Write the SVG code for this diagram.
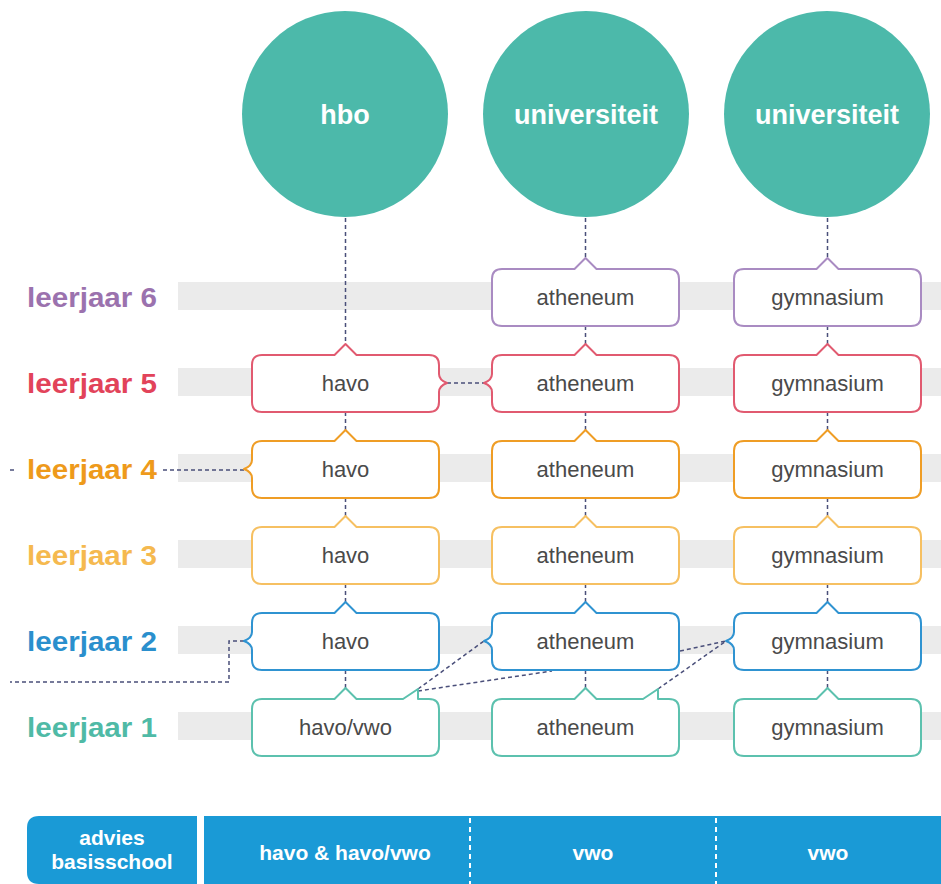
<svg xmlns="http://www.w3.org/2000/svg" width="941" height="884" viewBox="0 0 941 884">
<style>
.band{fill:#ebebeb}
.circ{fill:#4cb9aa}
.ctext{font-family:"Liberation Sans",Arial,sans-serif;font-weight:bold;font-size:27px;fill:#fff;text-anchor:middle}
.lbl{font-family:"Liberation Sans",Arial,sans-serif;font-weight:bold;font-size:28px;text-anchor:end}
.box{fill:#fff;stroke-width:2;stroke-linejoin:round}
.btext{font-family:"Liberation Sans",Arial,sans-serif;font-size:22px;fill:#4a4a4a;text-anchor:middle}
.r6{stroke:#a98bc2}.r5{stroke:#e15a70}.r4{stroke:#ef9d25}.r3{stroke:#f6c062}.r2{stroke:#2f93d1}.r1{stroke:#5cc1ae}
.conn path,.conn line{fill:none;stroke:#4a4f7a;stroke-width:1.5;stroke-dasharray:4 3}
.bar{fill:#1a9ad6}
.bartext{font-family:"Liberation Sans",Arial,sans-serif;font-weight:bold;font-size:21px;fill:#fff;text-anchor:middle}
.sep{stroke:#fff;stroke-width:2;stroke-dasharray:5 4}
</style>
<rect width="941" height="884" fill="#fff"/>
<g id="bands">
<rect class="band" x="178" y="282" width="763" height="28"/>
<rect class="band" x="178" y="368" width="763" height="28"/>
<rect class="band" x="178" y="454" width="763" height="28"/>
<rect class="band" x="178" y="540" width="763" height="28"/>
<rect class="band" x="178" y="626" width="763" height="28"/>
<rect class="band" x="178" y="712" width="763" height="28"/>
</g>
<g id="labels">
<text class="lbl" x="157" y="307" fill="#9b72ae" textLength="130" lengthAdjust="spacingAndGlyphs">leerjaar 6</text>
<text class="lbl" x="157" y="393" fill="#e2435a" textLength="130" lengthAdjust="spacingAndGlyphs">leerjaar 5</text>
<text class="lbl" x="157" y="479" fill="#ee9a1b" textLength="130" lengthAdjust="spacingAndGlyphs">leerjaar 4</text>
<text class="lbl" x="157" y="565" fill="#f5b94f" textLength="130" lengthAdjust="spacingAndGlyphs">leerjaar 3</text>
<text class="lbl" x="157" y="651" fill="#2a8fcd" textLength="130" lengthAdjust="spacingAndGlyphs">leerjaar 2</text>
<text class="lbl" x="157" y="737" fill="#4fbaa6" textLength="130" lengthAdjust="spacingAndGlyphs">leerjaar 1</text>
</g>
<g class="conn" id="connectors">
<line x1="345.5" y1="218" x2="345.5" y2="344"/>
<line x1="345.5" y1="412" x2="345.5" y2="430"/>
<line x1="345.5" y1="498" x2="345.5" y2="516"/>
<line x1="345.5" y1="584" x2="345.5" y2="602"/>
<line x1="345.5" y1="670" x2="345.5" y2="688"/>
<line x1="585.5" y1="218" x2="585.5" y2="258"/>
<line x1="585.5" y1="326" x2="585.5" y2="344"/>
<line x1="585.5" y1="412" x2="585.5" y2="430"/>
<line x1="585.5" y1="498" x2="585.5" y2="516"/>
<line x1="585.5" y1="584" x2="585.5" y2="602"/>
<line x1="585.5" y1="670" x2="585.5" y2="688"/>
<line x1="827.5" y1="218" x2="827.5" y2="258"/>
<line x1="827.5" y1="326" x2="827.5" y2="344"/>
<line x1="827.5" y1="412" x2="827.5" y2="430"/>
<line x1="827.5" y1="498" x2="827.5" y2="516"/>
<line x1="827.5" y1="584" x2="827.5" y2="602"/>
<line x1="827.5" y1="670" x2="827.5" y2="688"/>
<line x1="447" y1="383" x2="484" y2="383"/>
<line x1="163" y1="470" x2="244" y2="470"/>
<line x1="10" y1="470" x2="17" y2="470"/>
<path d="M244,641 H229 V682 H10"/>
<line x1="418" y1="689" x2="484" y2="641"/>
<line x1="418" y1="691" x2="552" y2="671"/>
<line x1="658" y1="689" x2="726" y2="641"/>
<line x1="680" y1="651" x2="726" y2="641"/>
</g>
<g id="circle-hbo">
<circle class="circ" cx="345" cy="114" r="103"/>
<text class="ctext" x="345" y="124">hbo</text>
</g>
<g id="circle-uni1">
<circle class="circ" cx="586" cy="114" r="103"/>
<text class="ctext" x="586" y="124">universiteit</text>
</g>
<g id="circle-uni2">
<circle class="circ" cx="827" cy="114" r="103"/>
<text class="ctext" x="827" y="124">universiteit</text>
</g>
<g id="c1r5"><path class="box r5" d="M262,355 H334.5 L345.5,344 L356.5,355 H429 Q439,355 439,365 V374 Q439,380 447,383 Q439,386 439,392 V402 Q439,412 429,412 H262 Q252,412 252,402 V365 Q252,355 262,355 Z"/><text class="btext" x="345.5" y="391">havo</text></g>
<g id="c1r4"><path class="box r4" d="M262,441 H334.5 L345.5,430 L356.5,441 H429 Q439,441 439,451 V488 Q439,498 429,498 H262 Q252,498 252,488 V478 Q252,472 244,469 Q252,466 252,460 V451 Q252,441 262,441 Z"/><text class="btext" x="345.5" y="477">havo</text></g>
<g id="c1r3"><path class="box r3" d="M262,527 H334.5 L345.5,516 L356.5,527 H429 Q439,527 439,537 V574 Q439,584 429,584 H262 Q252,584 252,574 V537 Q252,527 262,527 Z"/><text class="btext" x="345.5" y="563">havo</text></g>
<g id="c1r2"><path class="box r2" d="M262,613 H334.5 L345.5,602 L356.5,613 H429 Q439,613 439,623 V660 Q439,670 429,670 H262 Q252,670 252,660 V650 Q252,644 244,641 Q252,638 252,632 V623 Q252,613 262,613 Z"/><text class="btext" x="345.5" y="649">havo</text></g>
<g id="c1r1"><path class="box r1" d="M262,699 H334.5 L345.5,688 L356.5,699 H403 L418,689 V699 H429 Q439,699 439,709 V746 Q439,756 429,756 H262 Q252,756 252,746 V709 Q252,699 262,699 Z"/><text class="btext" x="345.5" y="735">havo/vwo</text></g>
<g id="c2r6"><path class="box r6" d="M502,269 H574.5 L585.5,258 L596.5,269 H669 Q679,269 679,279 V316 Q679,326 669,326 H502 Q492,326 492,316 V279 Q492,269 502,269 Z"/><text class="btext" x="585.5" y="305">atheneum</text></g>
<g id="c2r5"><path class="box r5" d="M502,355 H574.5 L585.5,344 L596.5,355 H669 Q679,355 679,365 V402 Q679,412 669,412 H502 Q492,412 492,402 V392 Q492,386 484,383 Q492,380 492,374 V365 Q492,355 502,355 Z"/><text class="btext" x="585.5" y="391">atheneum</text></g>
<g id="c2r4"><path class="box r4" d="M502,441 H574.5 L585.5,430 L596.5,441 H669 Q679,441 679,451 V488 Q679,498 669,498 H502 Q492,498 492,488 V451 Q492,441 502,441 Z"/><text class="btext" x="585.5" y="477">atheneum</text></g>
<g id="c2r3"><path class="box r3" d="M502,527 H574.5 L585.5,516 L596.5,527 H669 Q679,527 679,537 V574 Q679,584 669,584 H502 Q492,584 492,574 V537 Q492,527 502,527 Z"/><text class="btext" x="585.5" y="563">atheneum</text></g>
<g id="c2r2"><path class="box r2" d="M502,613 H574.5 L585.5,602 L596.5,613 H669 Q679,613 679,623 V660 Q679,670 669,670 H502 Q492,670 492,660 V650 Q492,644 484,641 Q492,638 492,632 V623 Q492,613 502,613 Z"/><text class="btext" x="585.5" y="649">atheneum</text></g>
<g id="c2r1"><path class="box r1" d="M502,699 H574.5 L585.5,688 L596.5,699 H643 L658,689 V699 H669 Q679,699 679,709 V746 Q679,756 669,756 H502 Q492,756 492,746 V709 Q492,699 502,699 Z"/><text class="btext" x="585.5" y="735">atheneum</text></g>
<g id="c3r6"><path class="box r6" d="M744,269 H816.5 L827.5,258 L838.5,269 H911 Q921,269 921,279 V316 Q921,326 911,326 H744 Q734,326 734,316 V279 Q734,269 744,269 Z"/><text class="btext" x="827.5" y="305">gymnasium</text></g>
<g id="c3r5"><path class="box r5" d="M744,355 H816.5 L827.5,344 L838.5,355 H911 Q921,355 921,365 V402 Q921,412 911,412 H744 Q734,412 734,402 V365 Q734,355 744,355 Z"/><text class="btext" x="827.5" y="391">gymnasium</text></g>
<g id="c3r4"><path class="box r4" d="M744,441 H816.5 L827.5,430 L838.5,441 H911 Q921,441 921,451 V488 Q921,498 911,498 H744 Q734,498 734,488 V451 Q734,441 744,441 Z"/><text class="btext" x="827.5" y="477">gymnasium</text></g>
<g id="c3r3"><path class="box r3" d="M744,527 H816.5 L827.5,516 L838.5,527 H911 Q921,527 921,537 V574 Q921,584 911,584 H744 Q734,584 734,574 V537 Q734,527 744,527 Z"/><text class="btext" x="827.5" y="563">gymnasium</text></g>
<g id="c3r2"><path class="box r2" d="M744,613 H816.5 L827.5,602 L838.5,613 H911 Q921,613 921,623 V660 Q921,670 911,670 H744 Q734,670 734,660 V650 Q734,644 726,641 Q734,638 734,632 V623 Q734,613 744,613 Z"/><text class="btext" x="827.5" y="649">gymnasium</text></g>
<g id="c3r1"><path class="box r1" d="M744,699 H816.5 L827.5,688 L838.5,699 H911 Q921,699 921,709 V746 Q921,756 911,756 H744 Q734,756 734,746 V709 Q734,699 744,699 Z"/><text class="btext" x="827.5" y="735">gymnasium</text></g>
<g id="bottom-bar">
<path class="bar" d="M39,816 H197 V884 H39 Q27,884 27,872 V828 Q27,816 39,816 Z"/>
<rect class="bar" x="204" y="816" width="737" height="68"/>
<line class="sep" x1="470" y1="818" x2="470" y2="884"/>
<line class="sep" x1="716" y1="818" x2="716" y2="884"/>
<text class="bartext" x="112" y="845">advies</text>
<text class="bartext" x="112" y="869">basisschool</text>
<text class="bartext" x="345" y="860">havo &amp; havo/vwo</text>
<text class="bartext" x="593" y="860">vwo</text>
<text class="bartext" x="828" y="860">vwo</text>
</g>
</svg>
